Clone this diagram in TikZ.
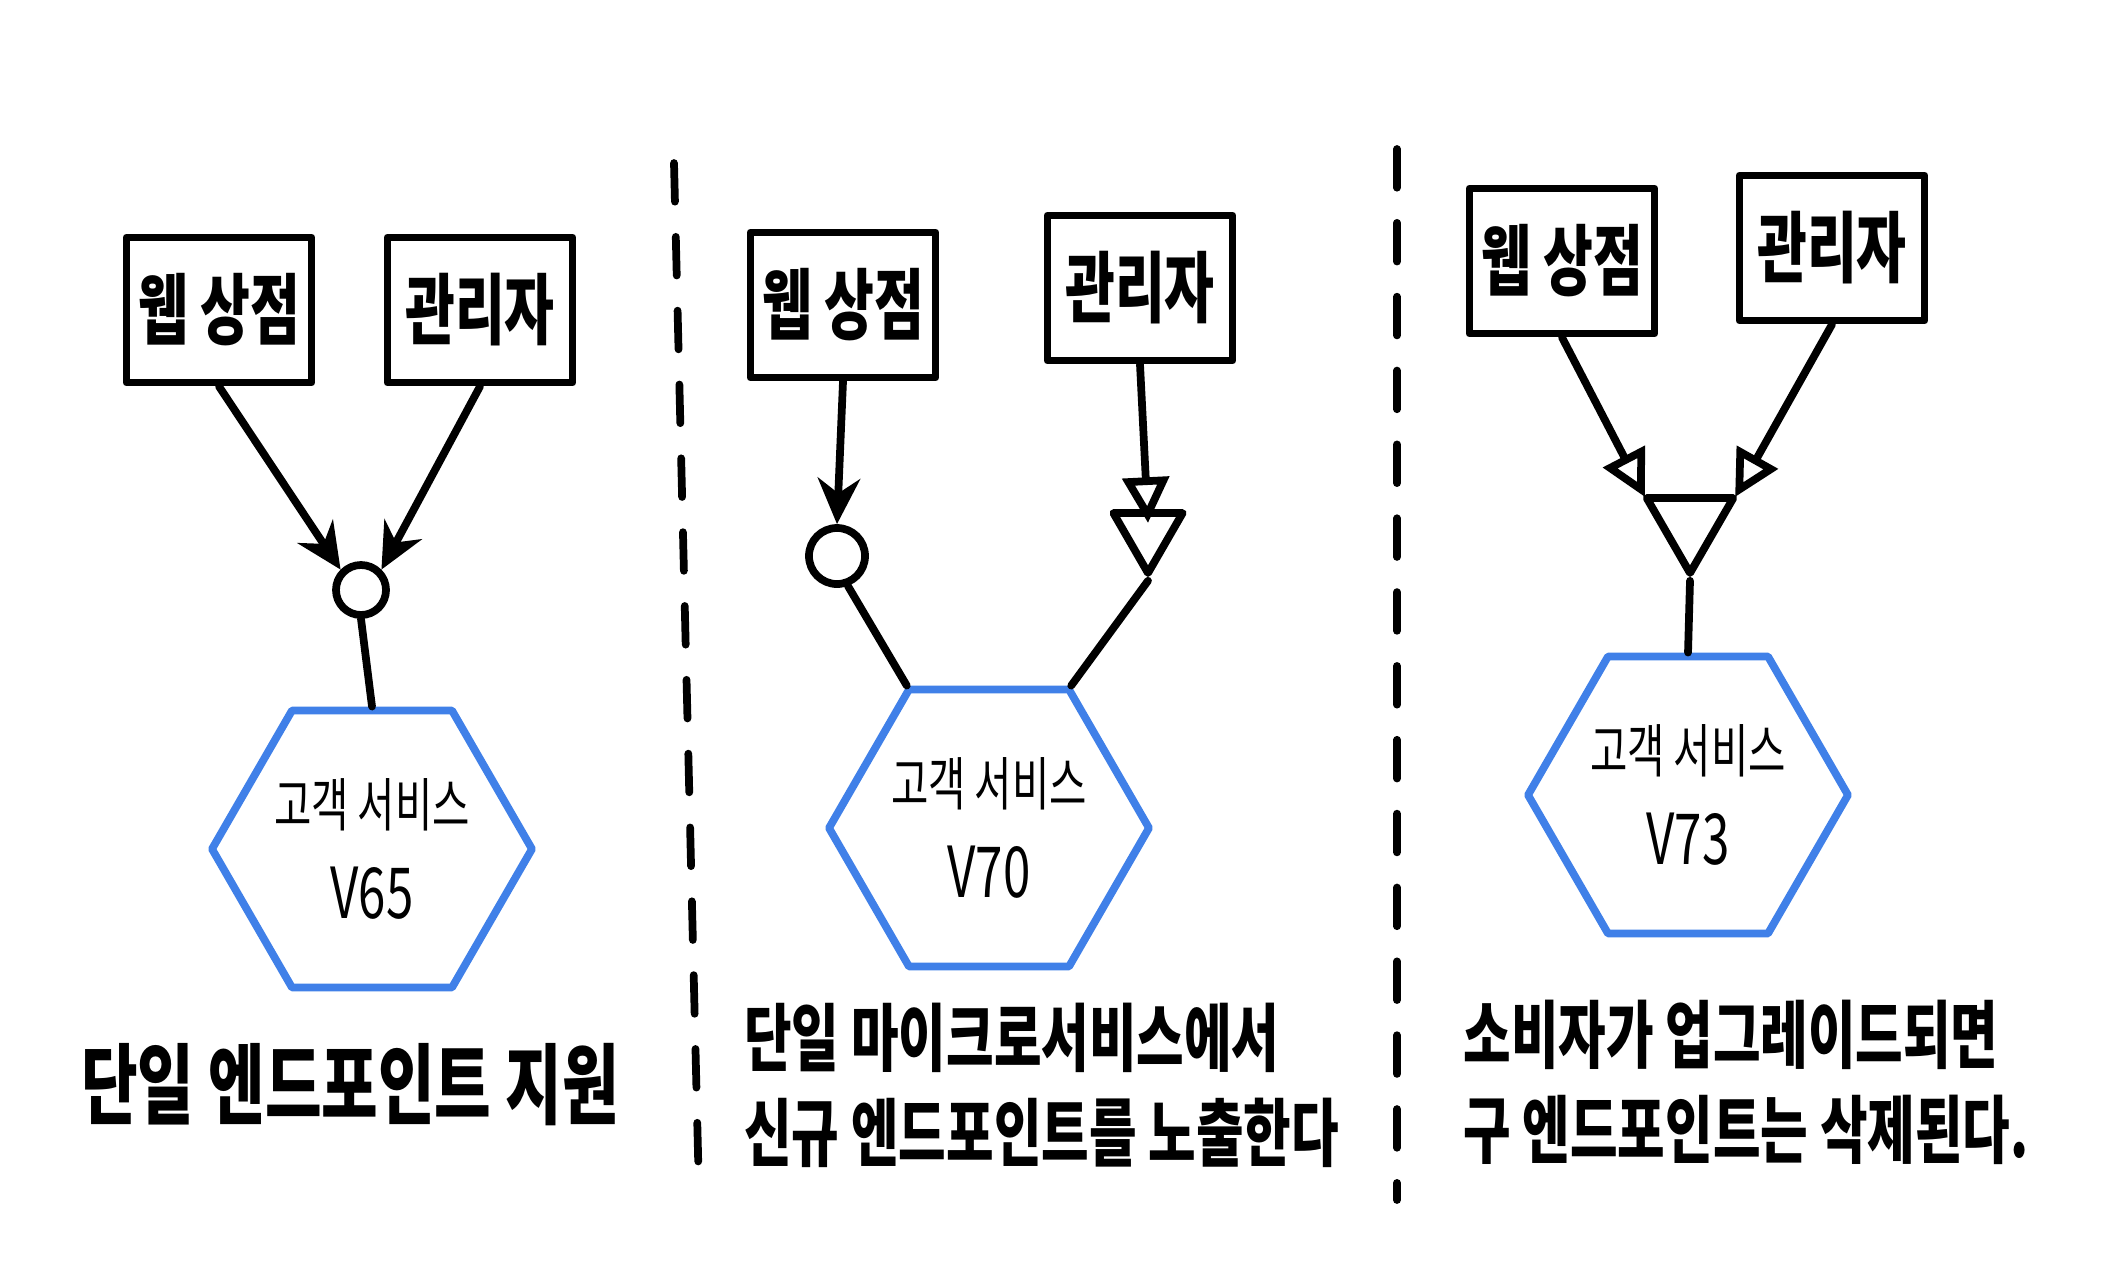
\documentclass[tikz,border=0pt]{standalone}
\usepackage{fontspec}
\usetikzlibrary{shapes.geometric,arrows.meta,calc}
\newfontfamily\hand[FakeStretch=0.7]{Noto Sans CJK KR}
\definecolor{handblue}{RGB}{64,128,232}

\begin{document}
\begin{tikzpicture}[x=0.01cm, y=-0.01cm, line cap=round, line join=round,
  box/.style={draw, line width=2.2pt, minimum width=1.85cm, minimum height=1.45cm, inner sep=2pt, font=\hand\bfseries\fontsize{22}{26}\selectfont},
  svc/.style={regular polygon, regular polygon sides=6, draw=handblue, line width=2.2pt, minimum size=3.1cm, inner sep=0pt, align=center, font=\hand\fontsize{16.5}{26}\selectfont},
  ep/.style={circle, draw, line width=2.2pt, minimum size=0.5cm, inner sep=0pt},
  eptri/.style={regular polygon, regular polygon sides=3, shape border rotate=180, draw, line width=2.2pt, minimum size=0.85cm, inner sep=0pt},
  link/.style={line width=2.2pt},
  divider/.style={line width=2.2pt, dash pattern=on 11pt off 10pt},
  caption/.style={align=left, font=\hand\bfseries\fontsize{21}{27}\selectfont}]
	% 0. canvas
	\fill[white] (0,0) rectangle (2127,1287);
	\useasboundingbox (0,0) rectangle (2127,1287);

	% 1. single endpoint
	\node[box] (web1) at (219,310) {웹 상점};
	\node[box] (adm1) at (480,310) {관리자};
	\node[ep] (ep1) at (361,590) {};
	\node[svc] (svc1) at (372,849) {고객 서비스\\{\fontsize{20}{24}\selectfont V65}};
	\draw[link, -{Stealth[length=13pt,width=12pt]}] (web1.south) -- (ep1.135);
	\draw[link, -{Stealth[length=13pt,width=12pt]}] (adm1.south) -- (ep1.45);
	\draw[link] (ep1.south) -- (svc1.north);
	\node[caption, anchor=center, font=\hand\bfseries\fontsize{25}{30}\selectfont] (cap1) at (350,1085) {단일 엔드포인트 지원};

	% dividers
	\draw[divider] (674,163) -- (699,1194);
	\draw[divider] (1397,149) -- (1397,1200);

	% 2. old and new endpoint side by side
	\node[box] (web2) at (843,305) {웹 상점};
	\node[box] (adm2) at (1140,288) {관리자};
	\node[ep, minimum size=0.56cm] (ep2) at (837,556) {};
	\node[eptri, minimum size=0.8cm] (tri2) at (1148,533) {};
	\node[svc] (svc2) at (989,828) {고객 서비스\\{\fontsize{20}{24}\selectfont V70}};
	\draw[link, -{Stealth[length=13pt,width=12pt]}] (web2.south) -- (ep2.north);
	\draw[link, -{Triangle[open,length=13pt,width=13pt]}] (adm2.south) -- ($(tri2.center)+(0,0.1cm)$);
	\draw[link] (ep2.290) -- (svc2.120);
	\draw[link] (tri2.south) -- (svc2.60);
	\node[caption, anchor=west] (cap2) at (732,1085) {단일 마이크로서비스에서\\신규 엔드포인트를 노출한다};

	% 3. old endpoint removed
	\node[box] (web3) at (1562,261) {웹 상점};
	\node[box] (adm3) at (1832,248) {관리자};
	\node[eptri, minimum size=1.0cm] (tri3) at (1690,523) {};
	\node[svc] (svc3) at (1688,795) {고객 서비스\\{\fontsize{20}{24}\selectfont V73}};
	\draw[link, -{Triangle[open,length=13pt,width=13pt]}] (web3.south) -- ($(tri3.center)+(150:0.52cm)$);
	\draw[link, -{Triangle[open,length=13pt,width=13pt]}] (adm3.south) -- ($(tri3.center)+(30:0.52cm)$);
	\draw[link] (tri3.south) -- (svc3.north);
	\node[caption, anchor=west] (cap3) at (1451,1082) {소비자가 업그레이드되면\\구 엔드포인트는 삭제된다.};
\end{tikzpicture}
\end{document}
